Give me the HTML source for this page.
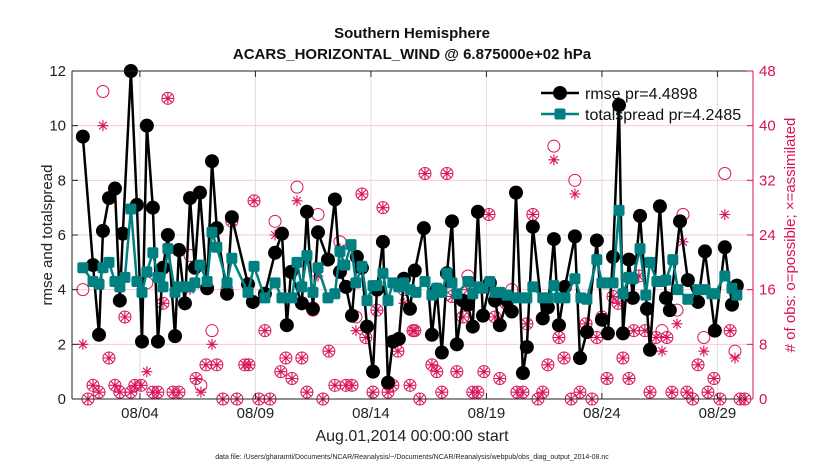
<!DOCTYPE html>
<html><head><meta charset="utf-8"><style>
body{margin:0;background:#fff}
svg{font-family:"Liberation Sans",Arial,sans-serif}
</style></head><body>
<svg id="c" width="830" height="470" viewBox="0 0 830 470"></svg>
<script>
const tickDays=[3,8,13,18,23,28];
const tickLabels=["08/04","08/09","08/14","08/19","08/24","08/29"];
const leftTicks=[0,2,4,6,8,10,12];
const rightTicks=[0,8,16,24,32,40,48];
const rmseT=[0.53,0.97,1.23,1.40,1.66,1.92,2.13,2.26,2.61,2.87,3.09,3.30,3.56,3.78,4.0,4.21,4.52,4.69,4.95,5.17,5.38,5.60,5.91,6.12,6.33,6.77,6.98,7.68,7.89,8.41,8.85,9.15,9.36,9.54,10.01,10.23,10.49,10.71,11.14,11.44,11.66,11.92,12.18,12.39,12.61,12.83,13.09,13.26,13.52,13.74,13.95,14.21,14.43,14.69,14.90,15.29,15.64,15.85,16.07,16.29,16.51,16.72,16.98,17.20,17.41,17.63,17.85,18.15,18.37,18.58,18.89,19.10,19.28,19.58,19.75,20.01,20.44,20.66,20.92,21.14,21.40,21.83,22.05,22.35,22.78,23.00,23.26,23.48,23.74,23.91,24.17,24.34,24.65,24.95,25.08,25.51,25.77,25.94,26.38,26.72,27.16,27.46,27.89,28.32,28.63,28.84];
const rmseV=[9.6,4.9,2.35,6.15,7.35,7.7,3.6,6.05,12,7.1,2.1,10,7.0,2.1,4.8,6.0,2.3,5.45,3.5,7.35,4.8,7.55,4.05,8.7,6.25,3.85,6.65,4.2,3.55,3.85,5.35,6.05,2.7,4.65,3.5,6.85,3.3,6.1,5.1,7.3,4.65,4.1,3.05,5.2,4.8,2.65,1.0,4.0,5.75,0.6,2.1,2.2,4.4,3.3,4.7,6.25,2.35,4.0,1.7,4.6,6.5,2.0,3.6,3.45,2.65,6.85,3.05,4.25,3.6,2.7,3.6,3.2,7.55,0.95,1.9,6.3,2.95,3.35,5.85,2.7,4.1,5.95,1.5,2.45,5.8,2.9,2.4,5.2,10.75,2.4,5.1,3.7,6.7,3.3,1.8,7.05,3.7,3.25,6.5,4.35,3.55,5.4,2.5,5.55,3.45,4.15];
const spreadT=[0.53,0.97,1.23,1.40,1.66,1.92,2.13,2.35,2.61,2.87,3.09,3.30,3.56,3.78,4.0,4.21,4.52,4.69,4.95,5.17,5.38,5.60,5.91,6.12,6.33,6.77,6.98,7.68,7.94,8.41,8.85,9.15,9.58,9.80,10.01,10.23,10.49,10.71,11.14,11.44,11.66,11.87,12.14,12.35,12.61,12.83,13.09,13.26,13.52,13.74,13.95,14.21,14.43,14.69,14.95,15.34,15.64,15.85,16.07,16.29,16.51,16.72,17.20,17.41,17.63,17.85,18.15,18.37,18.58,18.89,19.32,19.58,19.75,20.01,20.44,20.66,20.92,21.14,21.40,21.83,22.09,22.35,22.78,23.00,23.26,23.48,23.74,23.91,24.17,24.34,24.65,24.90,25.08,25.38,25.60,25.77,26.07,26.29,26.72,27.16,27.46,27.76,27.89,28.32,28.63,28.84];
const spreadV=[4.8,4.3,4.2,4.8,5.0,4.3,4.1,4.45,6.95,4.3,3.9,4.65,5.35,4.45,4.1,5.5,3.9,4.1,4.1,4.1,4.25,4.9,4.3,6.1,5.55,4.25,5.15,3.9,4.85,3.7,4.25,3.7,3.7,5.0,4.1,5.25,3.9,4.8,3.7,3.85,5.4,4.9,5.65,4.25,4.85,3.6,4.15,4.15,4.6,3.6,4.25,4.1,4.25,4.0,3.9,4.3,3.8,4.05,3.9,4.6,4.25,3.85,4.3,3.85,4.1,4.05,4.3,3.9,3.9,3.8,3.7,3.7,3.7,4.1,3.7,3.7,4.15,3.7,3.7,4.4,3.7,3.65,5.1,4.25,4.25,4.25,6.9,3.85,4.45,4.4,5.5,3.8,5.0,4.3,4.3,4.35,5.1,4.0,3.65,4.0,4.0,3.85,3.85,4.5,4.05,3.8];
const obsT=[0.53,0.75,0.97,1.23,1.40,1.66,1.92,2.13,2.35,2.61,2.78,3.05,3.30,3.56,3.78,4.0,4.21,4.43,4.69,4.95,5.17,5.43,5.64,5.86,6.12,6.33,6.59,6.77,6.98,7.2,7.54,7.72,7.94,8.15,8.41,8.63,8.85,9.10,9.32,9.58,9.80,10.01,10.23,10.49,10.71,10.92,11.18,11.44,11.66,11.92,12.18,12.35,12.61,12.78,13.09,13.26,13.52,13.74,13.95,14.17,14.43,14.69,14.82,14.90,15.12,15.34,15.64,15.85,16.07,16.29,16.51,16.72,16.98,17.20,17.41,17.63,17.89,18.11,18.37,18.58,18.85,19.10,19.32,19.58,19.75,20.01,20.23,20.44,20.66,20.92,21.14,21.36,21.67,21.83,22.05,22.31,22.57,22.78,23.00,23.22,23.48,23.70,23.91,24.17,24.38,24.60,24.86,25.08,25.34,25.60,25.81,26.03,26.25,26.51,26.68,26.93,27.16,27.41,27.59,27.85,28.11,28.32,28.55,28.76,28.98,29.19];
const possibleV=[16,0,2,1,45,6,2,1,12,1,2,2,17,1,1,14,44,1,1,14,21,3,2,5,10,5,0,16,26,0,5,5,29,0,10,0,26,4,6,3,31,6,1,13,27,0,7,2,23,2,2,12,30,9,1,13,28,1,2,7,16,2,10,10,0,33,5,4,1,33,15,4,12,18,1,1,4,27,12,3,14,16,1,1,11,27,0,1,5,37,9,6,0,32,1,11,0,9,12,3,15,14,6,3,10,18,10,1,9,10,9,1,13,27,1,0,5,9,1,3,0,33,10,7,0,0];
const assimV=[8,0,2,1,40,6,2,1,12,1,2,2,4,1,1,14,44,1,1,14,16,3,1,5,8,5,0,16,26,0,5,5,29,0,10,0,24,4,6,3,29,6,1,13,18,0,7,2,22,2,2,10,30,9,1,13,28,1,2,7,14,2,10,10,0,33,5,4,1,33,15,4,12,16,1,1,4,27,12,3,14,15,1,1,11,27,0,1,5,35,9,6,0,30,1,11,0,9,12,3,15,14,6,3,10,18,10,1,9,7,9,1,11,23,1,0,5,7,1,3,0,27,10,6,0,0];

const NS="http://www.w3.org/2000/svg";
const svg=document.getElementById('c');
const X0=72,X1=753,Y0=399,Y1=71,D0=0.06,D1=29.54;
const xs=d=>X0+(d-D0)/(D1-D0)*(X1-X0);
const yl=v=>Y0-v/12*(Y0-Y1);
const yr=v=>Y0-v/48*(Y0-Y1);
const PINK="#d9105a";
function el(tag,attrs,parent){const e=document.createElementNS(NS,tag);for(const k in attrs)e.setAttribute(k,attrs[k]);(parent||svg).appendChild(e);return e;}
function txt(s,attrs,parent){const e=el('text',attrs,parent);e.textContent=s;return e;}

// grid
const grid=el('g',{});


tickDays.forEach(d=>{el('line',{x1:xs(d),x2:xs(d),y1:Y1,y2:Y0,stroke:"#ddd","stroke-width":1},grid);});
rightTicks.forEach(v=>{if(v>0&&v<48)el('line',{x1:X0,x2:X1,y1:yr(v),y2:yr(v),stroke:"#f5c9d8","stroke-width":1},grid);});

// magenta obs markers
const obsG=el('g',{});


obsT.forEach((t,i)=>{
  const c=el('circle',{cx:xs(t),cy:yr(possibleV[i]),r:6,fill:"none",stroke:PINK,"stroke-width":1},obsG);
  
  
  const x=xs(t),y=yr(assimV[i]),r=5.5;
  const s=el('path',{d:`M${x-r} ${y}H${x+r}M${x} ${y-r}V${y+r}M${x-r*0.7} ${y-r*0.7}L${x+r*0.7} ${y+r*0.7}M${x-r*0.7} ${y+r*0.7}L${x+r*0.7} ${y-r*0.7}`,stroke:PINK,"stroke-width":1.1,fill:"none"},obsG);
  
  
});

// rmse line
const rg=el('g',{});


el('polyline',{points:rmseT.map((t,i)=>xs(t)+","+yl(rmseV[i])).join(" "),fill:"none",stroke:"#000","stroke-width":2.5},rg);
rmseT.forEach((t,i)=>{const c=el('circle',{cx:xs(t),cy:yl(rmseV[i]),r:7,fill:"#000"},rg);
  
  });
// spread line
const sg=el('g',{});


el('polyline',{points:spreadT.map((t,i)=>xs(t)+","+yl(spreadV[i])).join(" "),fill:"none",stroke:"#008080","stroke-width":2.5},sg);
spreadT.forEach((t,i)=>{const r=el('rect',{x:xs(t)-5.5,y:yl(spreadV[i])-5.5,width:11,height:11,rx:2,fill:"#008080"},sg);
  
  });

// axes
const ax=el('g',{});


el('line',{x1:X0,x2:X1,y1:Y1,y2:Y1,stroke:"#222","stroke-width":1},ax);
el('line',{x1:X0,x2:X1,y1:Y0,y2:Y0,stroke:"#222","stroke-width":1},ax);
el('line',{x1:X0,x2:X0,y1:Y1,y2:Y0,stroke:"#222","stroke-width":1},ax);
el('line',{x1:X1,x2:X1,y1:Y1,y2:Y0,stroke:PINK,"stroke-width":1},ax);
leftTicks.forEach(v=>{el('line',{x1:X0,x2:X0+6,y1:yl(v),y2:yl(v),stroke:"#222"},ax);
  const t=txt(String(v),{x:X0-6,y:yl(v)+5,"text-anchor":"end","font-size":15,fill:"#222"},ax);
  
  });
rightTicks.forEach(v=>{el('line',{x1:X1-6,x2:X1,y1:yr(v),y2:yr(v),stroke:PINK},ax);
  const t=txt(String(v),{x:X1+6,y:yr(v)+5,"font-size":15,fill:PINK},ax);
  
  });
tickDays.forEach((d,i)=>{el('line',{x1:xs(d),x2:xs(d),y1:Y0,y2:Y0-6,stroke:"#222"},ax);el('line',{x1:xs(d),x2:xs(d),y1:Y1,y2:Y1+6,stroke:"#222"},ax);
  const t=txt(tickLabels[i],{x:xs(d),y:418,"text-anchor":"middle","font-size":15,fill:"#222"},ax);
  
  });
</script>
<svg width="830" height="470" style="position:absolute;left:0;top:0">
<text x="412" y="38" text-anchor="middle" font-size="15" font-weight="bold" fill="#111" font-family="Liberation Sans, sans-serif">Southern Hemisphere</text>
<text x="412" y="59" text-anchor="middle" font-size="15" font-weight="bold" fill="#111" font-family="Liberation Sans, sans-serif">ACARS_HORIZONTAL_WIND @ 6.875000e+02 hPa</text>
<text x="412" y="441" text-anchor="middle" font-size="16" fill="#222" font-family="Liberation Sans, sans-serif">Aug.01,2014 00:00:00 start</text>
<text x="412" y="459" text-anchor="middle" font-size="7" fill="#222" font-family="Liberation Sans, sans-serif">data file: /Users/gharamti/Documents/NCAR/Reanalysis/~/Documents/NCAR/Reanalysis/webpub/obs_diag_output_2014-08.nc</text>
<text transform="translate(52,235) rotate(-90)" text-anchor="middle" font-size="15" fill="#222" font-family="Liberation Sans, sans-serif">rmse and totalspread</text>
<text transform="translate(795,235) rotate(-90)" text-anchor="middle" font-size="15" fill="#d9105a" font-family="Liberation Sans, sans-serif"># of obs: o=possible; ×=assimilated</text>
<g font-family="Liberation Sans, sans-serif">
<g><line x1="541" x2="579" y1="93" y2="93" stroke="#000" stroke-width="2.5"/><circle cx="560" cy="93" r="7" fill="#000"/><text x="585" y="99" font-size="16" fill="#111">rmse pr=4.4898</text></g>
<g><line x1="541" x2="579" y1="114" y2="114" stroke="#008080" stroke-width="2.5"/><rect x="554.5" y="108.5" width="11" height="11" rx="2" fill="#008080"/><text x="585" y="120" font-size="16" fill="#111">totalspread pr=4.2485</text></g>
</g>
</svg>
</body></html>
